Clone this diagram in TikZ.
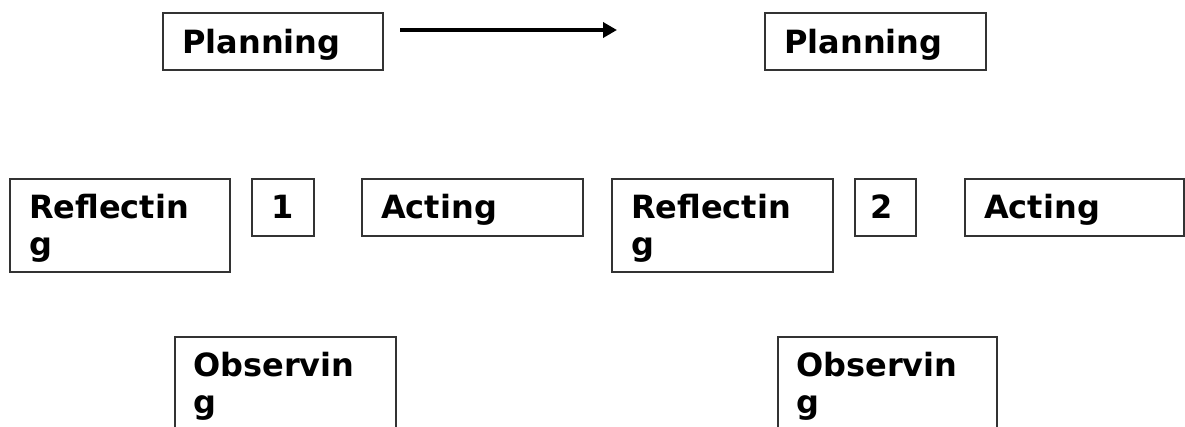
\documentclass[tikz,border=0pt]{standalone}
\usepackage{fontspec}
\setmainfont{DejaVu Sans}
\usetikzlibrary{arrows.meta,calc}
\begin{document}
\begin{tikzpicture}[x=1pt,y=-1pt,
  box/.style={draw=black!80, line width=1.1pt, inner sep=0pt, outer sep=0pt, anchor=north west},
  lbl/.style={inner sep=0pt, anchor=base west, align=left,
    font=\fontsize{32}{37}\selectfont\bfseries},
  flow/.style={line width=4.5pt, -{Triangle[length=14pt,width=15pt]}}]
\clip (0,0) rectangle (1185,426);
\fill[white] (0,0) rectangle (1185,426);
% boxes
\node[box, minimum width=220pt, minimum height=57pt] (p1) at (163,13) {};
\node[box, minimum width=221pt, minimum height=57pt] (p2) at (765,13) {};
\node[box, minimum width=220pt, minimum height=93pt] (r1) at (10,179) {};
\node[box, minimum width=62pt, minimum height=57pt] (n1) at (252,179) {};
\node[box, minimum width=221pt, minimum height=57pt] (a1) at (362,179) {};
\node[box, minimum width=221pt, minimum height=93pt] (r2) at (612,179) {};
\node[box, minimum width=61pt, minimum height=57pt] (n2) at (855,179) {};
\node[box, minimum width=219pt, minimum height=57pt] (a2) at (965,179) {};
\node[box, minimum width=221pt, minimum height=120pt] (o1) at (175,337) {};
\node[box, minimum width=219pt, minimum height=120pt] (o2) at (778,337) {};
% labels (base anchor = baseline of the last line)
\node[lbl] (tp1) at ($(p1.north west)+(19,40)$) {Planning};
\node[lbl] (tp2) at ($(p2.north west)+(19,40)$) {Planning};
\node[lbl] (tr1) at ($(r1.north west)+(19,76)$) {Reflectin\\g};
\node[lbl] (tn1) at ($(n1.north west)+(19,39)$) {1};
\node[lbl] (ta1) at ($(a1.north west)+(19,39)$) {Acting};
\node[lbl] (tr2) at ($(r2.north west)+(19,76)$) {Reflectin\\g};
\node[lbl] (tn2) at ($(n2.north west)+(15,39)$) {2};
\node[lbl] (ta2) at ($(a2.north west)+(19,39)$) {Acting};
\node[lbl] (to1) at ($(o1.north west)+(18,76)$) {Observin\\g};
\node[lbl] (to2) at ($(o2.north west)+(18,76)$) {Observin\\g};
% arrow
\coordinate (as) at ($(p1.east)+(17,-11.5)$);
\coordinate (ae) at ($(p1.east)+(234,-11.5)$);
\draw[flow] (as) -- (ae);
\end{tikzpicture}
\end{document}
